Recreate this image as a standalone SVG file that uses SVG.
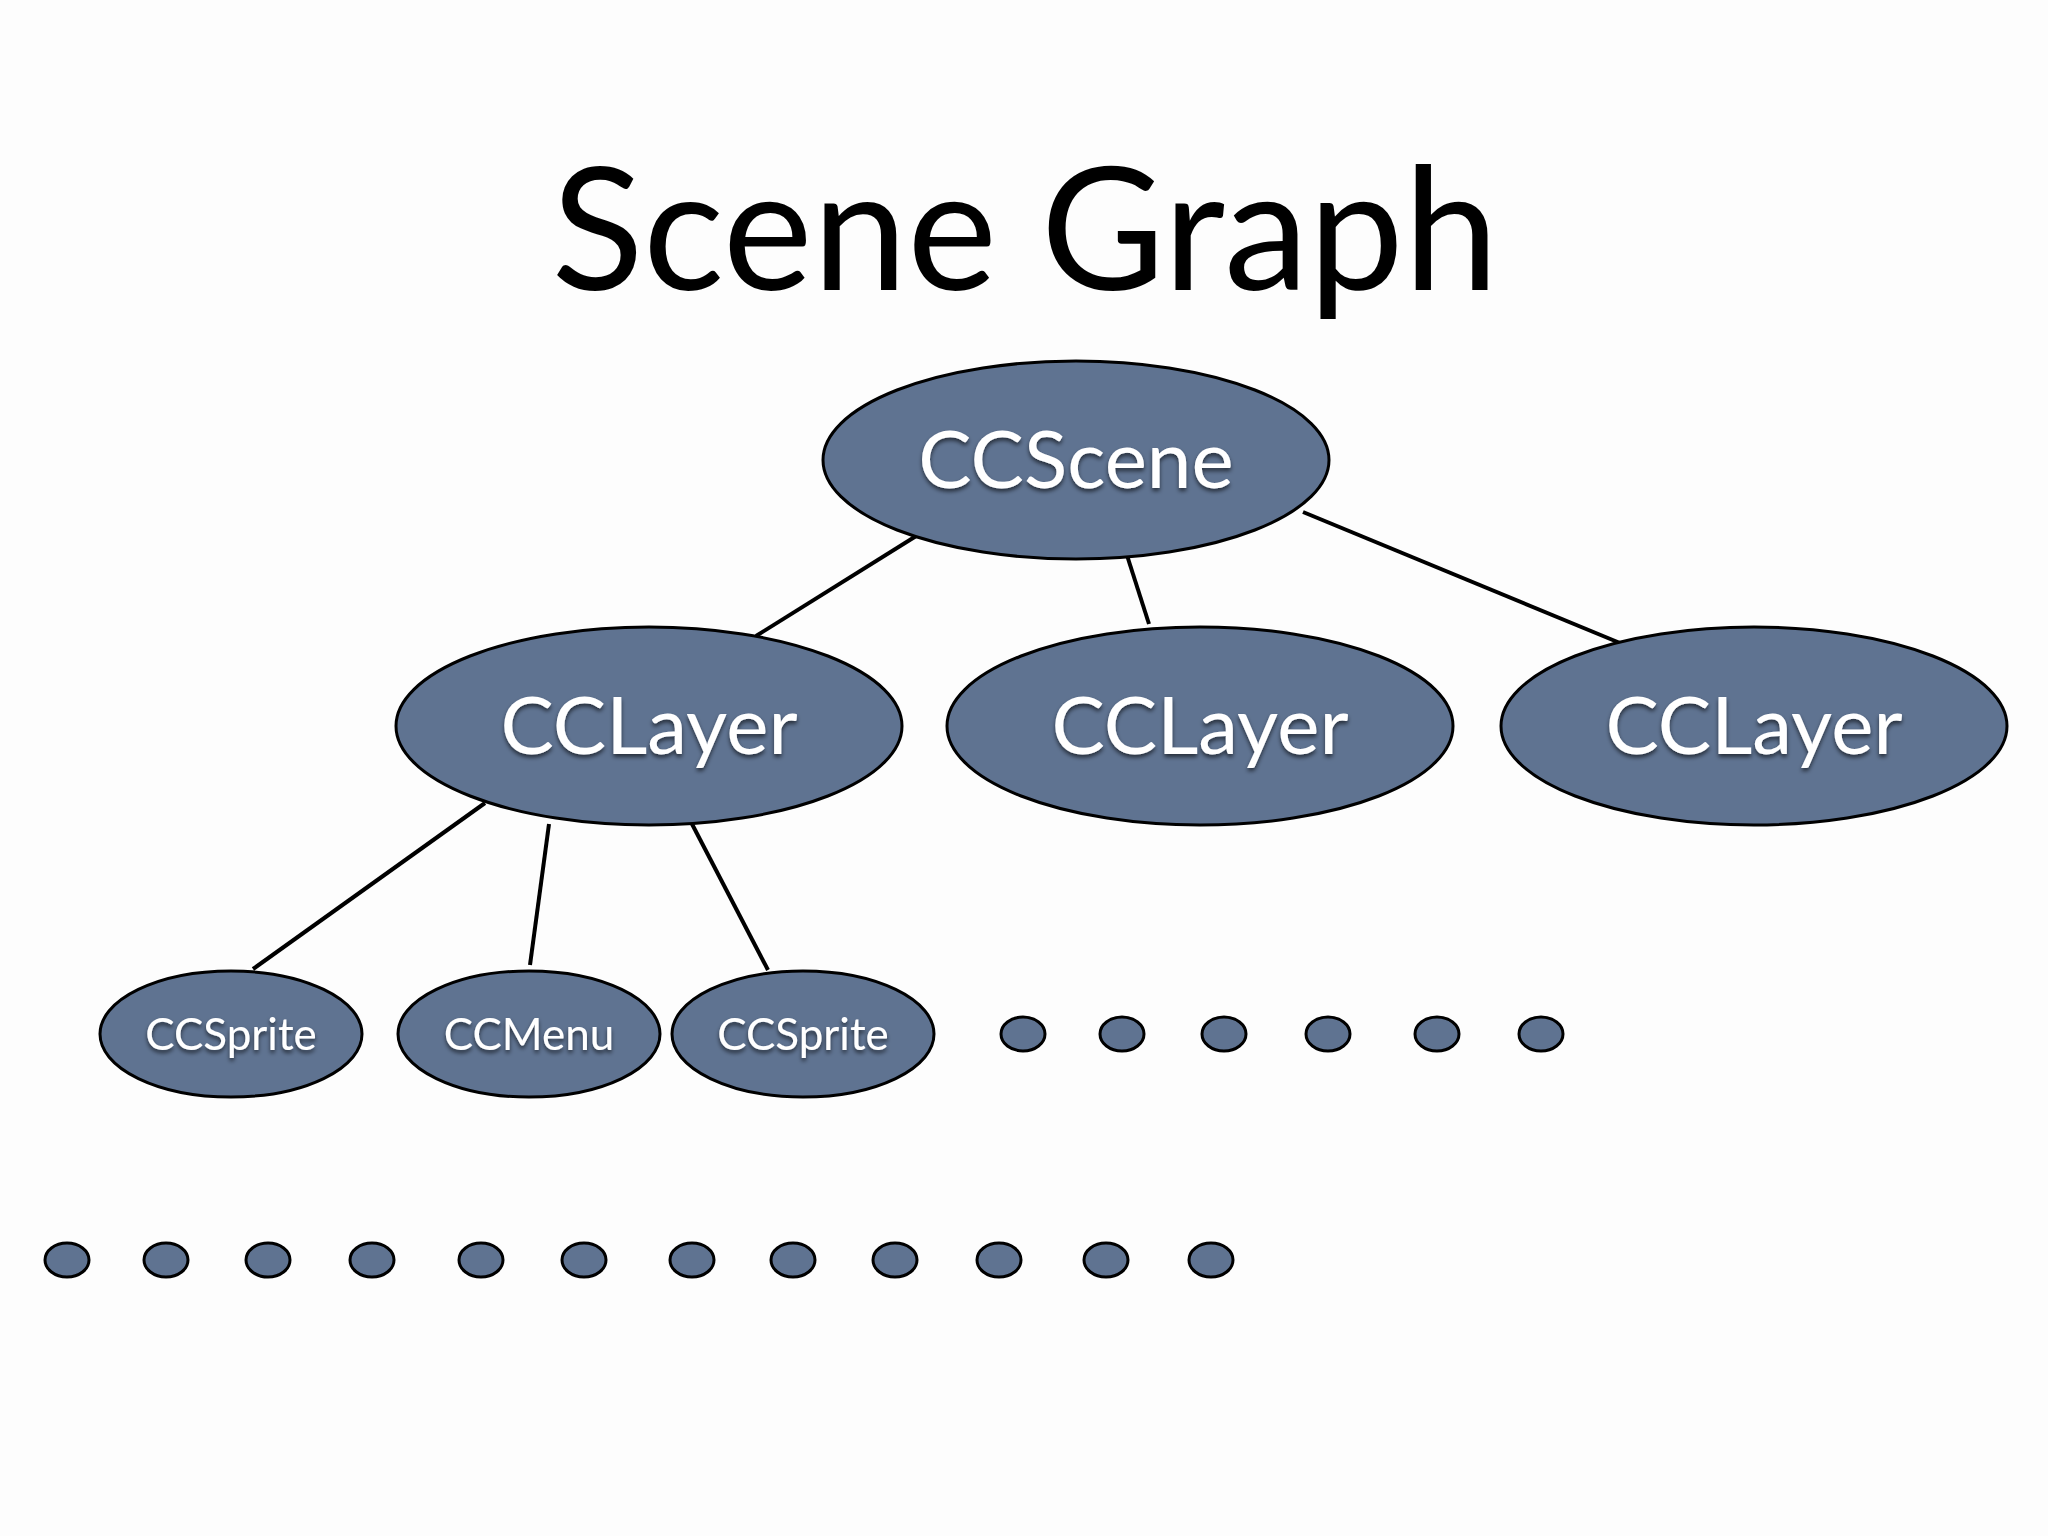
<svg xmlns="http://www.w3.org/2000/svg" width="2048" height="1536" viewBox="0 0 2048 1536">
<defs>
<filter id="sh" x="-10%" y="-10%" width="120%" height="130%"><feDropShadow dx="0" dy="3" stdDeviation="2" flood-color="#000" flood-opacity="0.6"/></filter>
</defs>
<style>
.n{fill:#5f7391;stroke:#000;stroke-width:3}
.t{font-family:Lato,"Open Sans",sans-serif;fill:#fff;text-anchor:middle;filter:url(#sh)}
.b{font-size:80px}.s{font-size:44px}
.c line{stroke:#000;stroke-width:4}
</style>
<rect width="2048" height="1536" fill="#fdfdfd"/>
<text x="1025" y="290" font-family="Lato,'Open Sans',sans-serif" font-size="170" text-anchor="middle" fill="#000">Scene Graph</text>
<g class="c">
<line x1="921" y1="533" x2="756" y2="636"/><line x1="1124" y1="546" x2="1149" y2="624"/><line x1="1303" y1="512" x2="1620" y2="643"/>
<line x1="485" y1="803" x2="253" y2="969"/><line x1="549" y1="824" x2="530" y2="965"/><line x1="692" y1="824" x2="768" y2="970"/>
</g>
<g id="scene"><ellipse class="n" cx="1076" cy="460" rx="253" ry="99"/><text class="t b" x="1076" y="488">CCScene</text></g>
<g id="layer1"><ellipse class="n" cx="649" cy="726" rx="253" ry="99"/><text class="t b" x="649" y="754">CCLayer</text></g>
<g id="layer2"><ellipse class="n" cx="1200" cy="726" rx="253" ry="99"/><text class="t b" x="1200" y="754">CCLayer</text></g>
<g id="layer3"><ellipse class="n" cx="1754" cy="726" rx="253" ry="99"/><text class="t b" x="1754" y="754">CCLayer</text></g>
<g id="sprite1"><ellipse class="n" cx="231" cy="1034" rx="131" ry="63"/><text class="t s" x="231" y="1050">CCSprite</text></g>
<g id="menu"><ellipse class="n" cx="529" cy="1034" rx="131" ry="63"/><text class="t s" x="529" y="1050">CCMenu</text></g>
<g id="sprite2"><ellipse class="n" cx="803" cy="1034" rx="131" ry="63"/><text class="t s" x="803" y="1050">CCSprite</text></g>
<g id="dots1">
<ellipse class="n" cx="1023" cy="1034" rx="22" ry="17"/><ellipse class="n" cx="1122" cy="1034" rx="22" ry="17"/><ellipse class="n" cx="1224" cy="1034" rx="22" ry="17"/><ellipse class="n" cx="1328" cy="1034" rx="22" ry="17"/><ellipse class="n" cx="1437" cy="1034" rx="22" ry="17"/><ellipse class="n" cx="1541" cy="1034" rx="22" ry="17"/>
</g>
<g id="dots2">
<ellipse class="n" cx="67" cy="1260" rx="22" ry="17"/><ellipse class="n" cx="166" cy="1260" rx="22" ry="17"/><ellipse class="n" cx="268" cy="1260" rx="22" ry="17"/><ellipse class="n" cx="372" cy="1260" rx="22" ry="17"/><ellipse class="n" cx="481" cy="1260" rx="22" ry="17"/><ellipse class="n" cx="584" cy="1260" rx="22" ry="17"/><ellipse class="n" cx="692" cy="1260" rx="22" ry="17"/><ellipse class="n" cx="793" cy="1260" rx="22" ry="17"/><ellipse class="n" cx="895" cy="1260" rx="22" ry="17"/><ellipse class="n" cx="999" cy="1260" rx="22" ry="17"/><ellipse class="n" cx="1106" cy="1260" rx="22" ry="17"/><ellipse class="n" cx="1211" cy="1260" rx="22" ry="17"/>
</g>
</svg>
